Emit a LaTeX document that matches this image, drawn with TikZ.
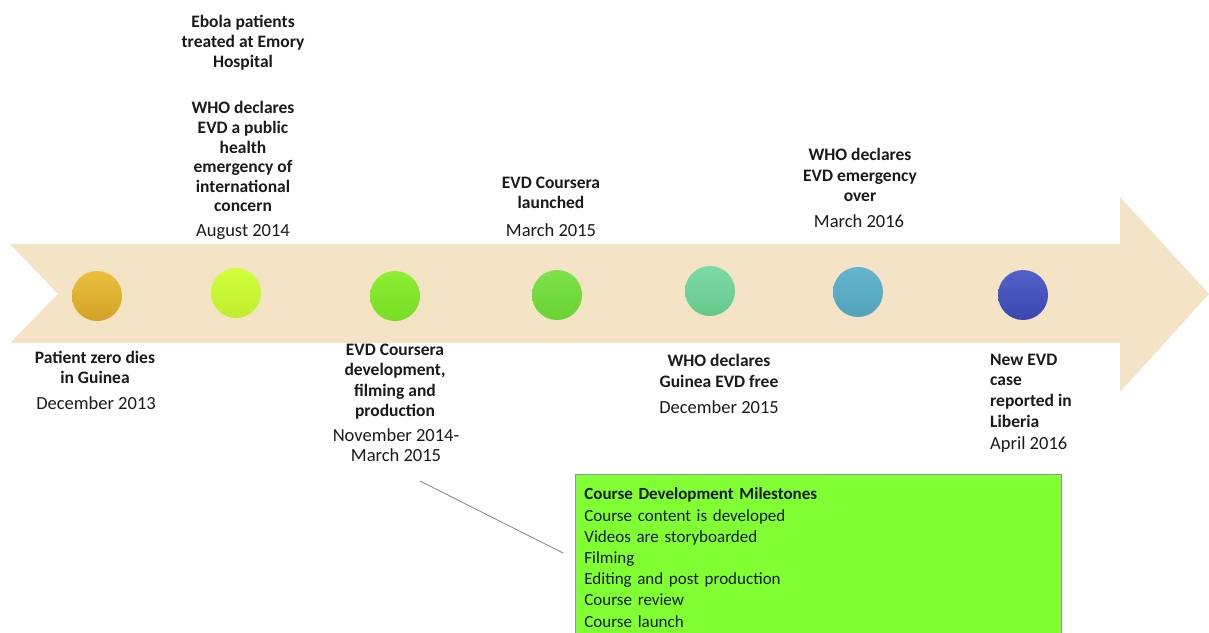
\documentclass[tikz,border=0pt]{standalone}
\usepackage{fontspec}
\setmainfont{Carlito}
\definecolor{band}{HTML}{F4E3C4}
\definecolor{boxfill}{HTML}{80FF33}
\definecolor{boxline}{HTML}{8A96A8}
\definecolor{leader}{HTML}{6A7890}
\definecolor{txt}{HTML}{1A1A1A}
\definecolor{c1t}{RGB}{233,192,60}\definecolor{c1b}{RGB}{210,162,40}
\definecolor{c2t}{RGB}{208,255,60}\definecolor{c2b}{RGB}{192,238,44}
\definecolor{c3t}{RGB}{142,238,52}\definecolor{c3b}{RGB}{118,222,36}
\definecolor{c4t}{RGB}{124,226,72}\definecolor{c4b}{RGB}{104,210,52}
\definecolor{c5t}{RGB}{124,218,164}\definecolor{c5b}{RGB}{104,200,140}
\definecolor{c6t}{RGB}{98,182,206}\definecolor{c6b}{RGB}{84,162,188}
\definecolor{c7t}{RGB}{82,98,202}\definecolor{c7b}{RGB}{58,70,176}
\begin{document}
\begin{tikzpicture}[x=1pt,y=-1pt,
  dot/.style={circle,minimum size=50pt,inner sep=0pt},
  ev/.style={align=center,font=\fontsize{17.5}{20.4}\selectfont\bfseries,text=txt,inner sep=0pt,anchor=north},
  evl/.style={align=left,font=\fontsize{17.5}{20.7}\selectfont\bfseries,text=txt,inner sep=0pt,anchor=north west},
  dt/.style={align=center,font=\fontsize{18.5}{20}\selectfont,text=txt,inner sep=0pt,anchor=north},
  dtl/.style={align=left,font=\fontsize{18.5}{20}\selectfont,text=txt,inner sep=0pt,anchor=north west}]
\useasboundingbox (0,0) rectangle (1209,632);
\clip (0,0) rectangle (1209,632);
% arrow band
\fill[band] (10,244) -- (1120,244) -- (1120,197) -- (1209,294) -- (1120,392) -- (1120,343) -- (10,343) -- (58,294) -- cycle;
% dots
\node[dot,top color=c1t,bottom color=c1b] (d1) at (97,296) {};
\node[dot,top color=c2t,bottom color=c2b] (d2) at (236,293) {};
\node[dot,top color=c3t,bottom color=c3b] (d3) at (395,296) {};
\node[dot,top color=c4t,bottom color=c4b] (d4) at (557,295) {};
\node[dot,top color=c5t,bottom color=c5b] (d5) at (710,291) {};
\node[dot,top color=c6t,bottom color=c6b] (d6) at (858,292) {};
\node[dot,top color=c7t,bottom color=c7b] (d7) at (1023,295) {};
% top labels
\node[ev,font=\fontsize{17.5}{20.1}\selectfont\bfseries] (t1) at (243,15) {Ebola patients\\treated at Emory\\Hospital};
\node[ev,font=\fontsize{17.5}{19.6}\selectfont\bfseries] (t2) at (243,101.5) {WHO declares\\EVD a public\\health\\emergency of\\international\\concern};
\node[dt] (t2d) at (243,224) {August 2014};
\node[ev] (t3) at (551,176.5) {EVD Coursera\\launched};
\node[dt] (t3d) at (551,223) {March 2015};
\node[ev] (t4) at (860,148.5) {WHO declares\\EVD emergency\\over};
\node[dt] (t4d) at (859,214) {March 2016};
% bottom labels
\node[ev] (b1) at (95,350.5) {Patient zero dies\\in Guinea};
\node[dt] (b1d) at (96,396) {December 2013};
\node[ev,font=\fontsize{17.5}{20.6}\selectfont\bfseries] (b2) at (395,343.5) {EVD Coursera\\development,\\filming and\\production};
\node[dt] (b2d) at (396,428) {November 2014-\\March 2015};
\node[ev] (b3) at (719,354.5) {WHO declares\\Guinea EVD free};
\node[dt] (b3d) at (719,400) {December 2015};
\node[evl] (b4) at (990,353.5) {New EVD\\case\\reported in\\Liberia};
\node[dtl] (b4d) at (990,436) {April 2016};
% milestones box
\node[draw=boxline,fill=boxfill,line width=0.8pt,anchor=north west,align=left,text width=468pt,
  inner xsep=9pt,inner ysep=13.5pt,font=\fontsize{17}{21.2}\selectfont,text=txt] (box) at (575,474)
  {\textbf{Course Development Milestones}\\Course content is developed\\Videos are storyboarded\\Filming\\Editing and post production\\Course review\\Course launch\\\mbox{}};
\coordinate (ls) at (420,481);
\coordinate (le) at (563,553);
\draw[leader,line width=0.7pt] (ls) -- (le);
\end{tikzpicture}
\end{document}
